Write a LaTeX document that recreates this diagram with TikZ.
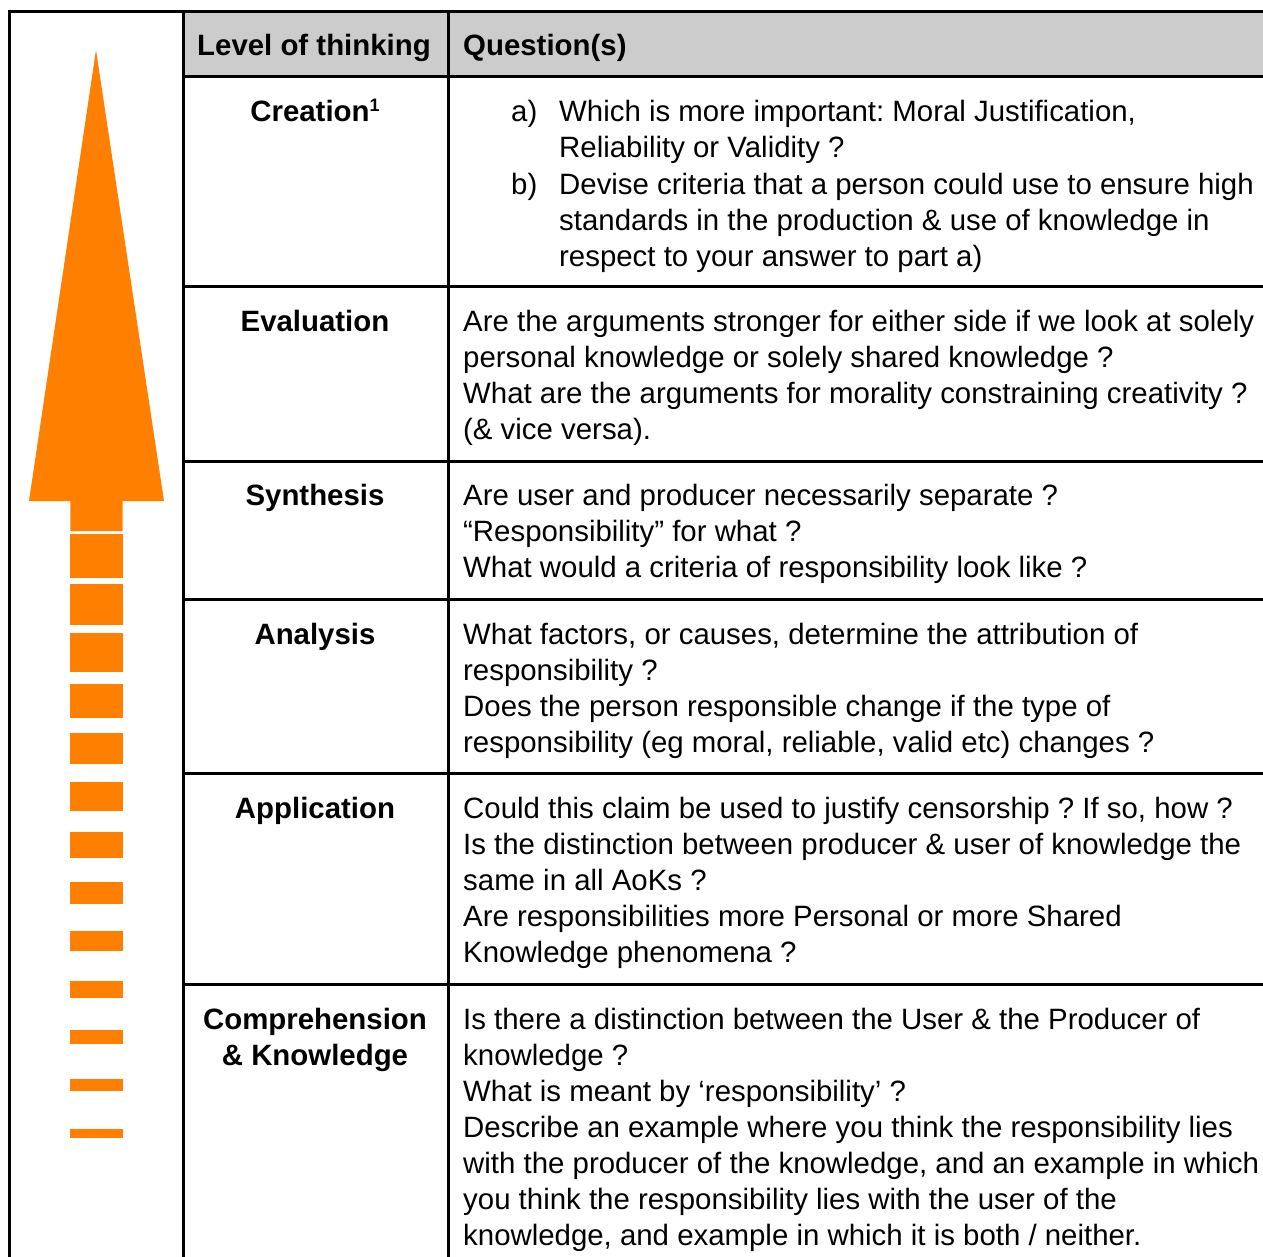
\documentclass[tikz,border=0pt]{standalone}
\usepackage{fontspec}
\setmainfont{Liberation Sans}
\definecolor{arroworange}{RGB}{255,128,0}
\definecolor{headgray}{RGB}{204,204,204}
\newcommand\topstrut{\rule{0pt}{25pt}}
\frenchspacing
\begin{document}
\frenchspacing
\begin{tikzpicture}[x=1pt,y=-1pt,
  grid/.style={line width=3pt, draw=black},
  qtext/.style={anchor=north west, inner sep=0pt, align=left, font=\frenchspacing\fontsize{29.4}{36}\selectfont},
  ltext/.style={anchor=north, inner sep=0pt, align=center, font=\bfseries\fontsize{29.4}{36}\selectfont},
  barstyle/.style={fill=arroworange, draw=none}]
\useasboundingbox (0,0) rectangle (1263,1257);
\fill[white] (0,0) rectangle (1263,1257);
% header fill
\fill[headgray] (183.4,11.3) rectangle (1263,77);
% arrow
\fill[arroworange] (96,50) -- (164,501) -- (122.7,501) -- (122.7,531) -- (70.3,531) -- (70.3,501) -- (29,501) -- cycle;
\foreach \a/\b in {534.3/578.3, 584/625, 633.3/672, 683.7/718.3, 732.7/764.3, 782.3/811.3, 832.3/858.3, 881.7/904.3, 930.7/951, 980.7/998.3, 1030/1044, 1079/1091, 1129/1138}
  \fill[barstyle] (70.3,\a) rectangle (122.7,\b);
% grid
\draw[grid] (8.2,11.3) -- (1263,11.3);
\draw[grid] (9.7,11.3) -- (9.7,1257);
\draw[grid] (183.4,11.3) -- (183.4,1257);
\draw[grid] (448.7,11.3) -- (448.7,1257);
\foreach \yy in {77, 286.5, 461, 599.3, 773.3, 984.3}
  \draw[grid] (183.4,\yy) -- (1263,\yy);
% header
\node[ltext] (hlevel) at (314,30) {\topstrut Level of thinking};
\node[qtext,font=\bfseries\fontsize{29.4}{36}\selectfont] (hquest) at (463,30) {\topstrut Question(s)};
% labels
\node[ltext] (lcreation) at (315,96.5) {\topstrut Creation\raisebox{10pt}{\fontsize{18}{18}\selectfont 1}};
\node[ltext] (levaluation) at (315,306) {\topstrut Evaluation};
\node[ltext] (lsynthesis) at (315,480.5) {\topstrut Synthesis};
\node[ltext] (lanalysis) at (315,618.8) {\topstrut Analysis};
\node[ltext] (lapplication) at (315,792.8) {\topstrut Application};
\node[ltext] (lcomprehension) at (315,1003.8) {\topstrut Comprehension\\\& Knowledge};
% questions
\node[qtext] (qcreation) at (511,96.5) {\topstrut\makebox[48pt][l]{a)}Which is more important: Moral Justification,\\
\hspace*{48pt}Reliability or Validity ?\\[1pt]
\makebox[48pt][l]{b)}Devise criteria that a person could use to ensure high\\
\hspace*{48pt}standards in the production \& use of knowledge in\\
\hspace*{48pt}respect to your answer to part a)};
\node[qtext] (qevaluation) at (463,306) {\topstrut Are the arguments stronger for either side if we look at solely\\
personal knowledge or solely shared knowledge ?\\
What are the arguments for morality constraining creativity ?\\
(\& vice versa).};
\node[qtext] (qsynthesis) at (463,480.5) {\topstrut Are user and producer necessarily separate ?\\
“Responsibility” for what ?\\
What would a criteria of responsibility look like ?};
\node[qtext] (qanalysis) at (463,618.8) {\topstrut What factors, or causes, determine the attribution of\\
responsibility ?\\
Does the person responsible change if the type of\\
responsibility (eg moral, reliable, valid etc) changes ?};
\node[qtext] (qapplication) at (463,792.8) {\topstrut Could this claim be used to justify censorship ? If so, how ?\\
Is the distinction between producer \& user of knowledge the\\
same in all AoKs ?\\
Are responsibilities more Personal or more Shared\\
Knowledge phenomena ?};
\node[qtext] (qcomprehension) at (463,1003.8) {\topstrut Is there a distinction between the User \& the Producer of\\
knowledge ?\\
What is meant by ‘responsibility’ ?\\
Describe an example where you think the responsibility lies\\
with the producer of the knowledge, and an example in which\\
you think the responsibility lies with the user of the\\
knowledge, and example in which it is both / neither.};
\end{tikzpicture}
\end{document}
